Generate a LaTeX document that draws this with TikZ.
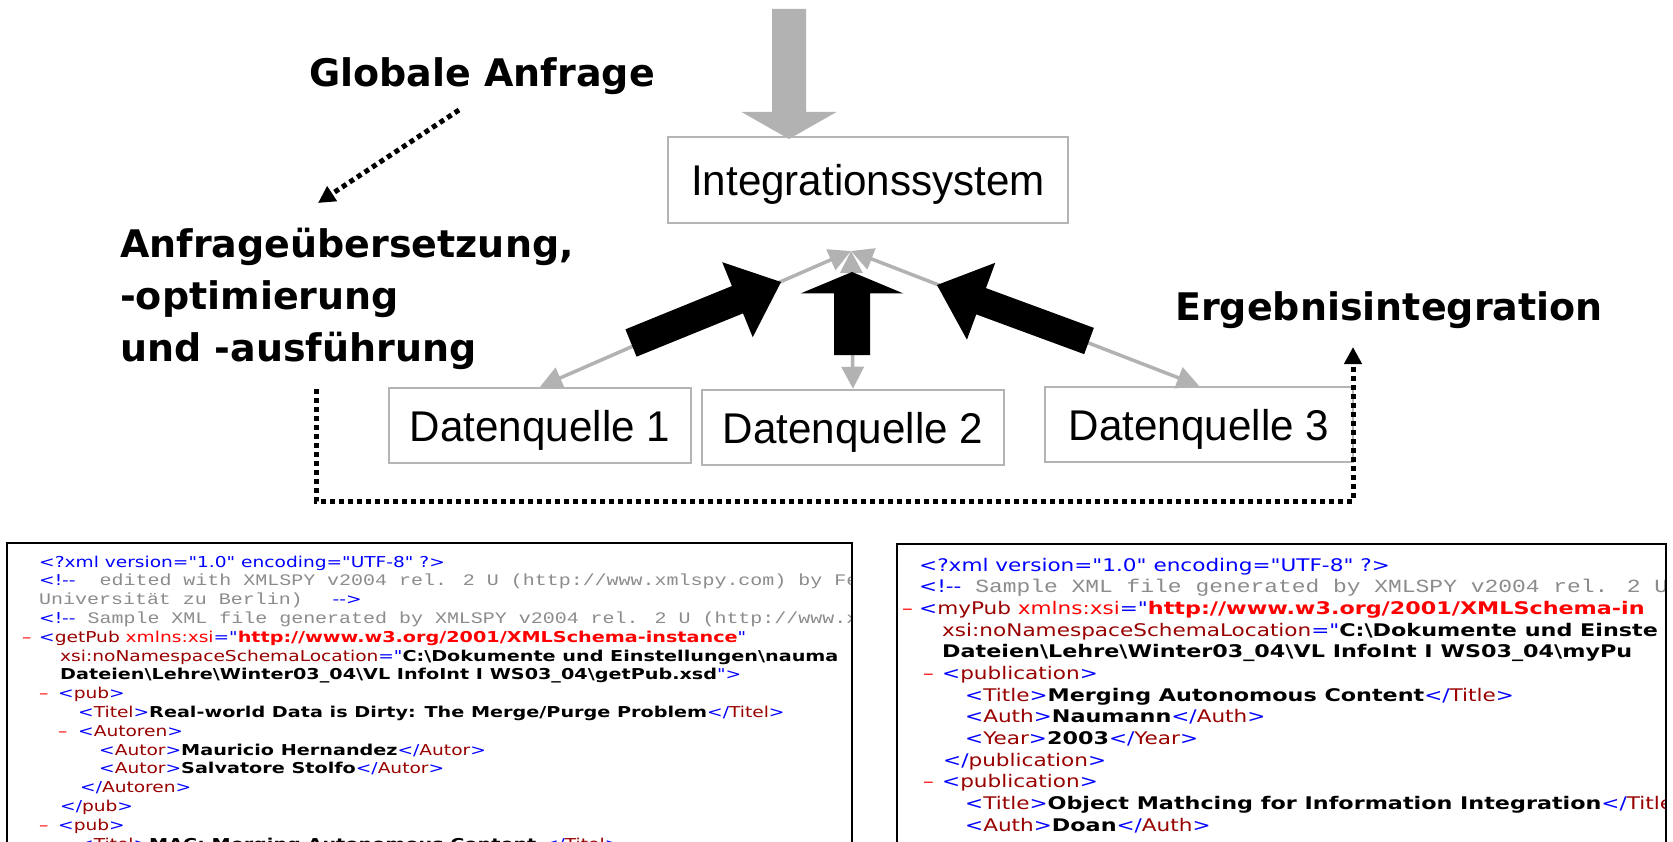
\documentclass[tikz,border=0pt]{standalone}
\usepackage{fontspec}
\usetikzlibrary{calc,arrows.meta}
\newfontfamily\lblfont{DejaVu Sans}
\newfontfamily\boxfont[FakeStretch=0.98]{Liberation Sans}
\newfontfamily\xsans[FakeStretch=1.24, BoldFeatures={FakeStretch=1.28}]{DejaVu Sans}
\newfontfamily\xmono[FakeStretch=1.24]{Liberation Mono}
\definecolor{lgray}{HTML}{B2B2B2}
\definecolor{bgray}{HTML}{B4B4B4}
\definecolor{xblue}{HTML}{0000FF}
\definecolor{xdred}{HTML}{990000}
\definecolor{xred}{HTML}{FF0000}
\definecolor{xgray}{HTML}{8C8C8C}
% XML listing helpers
\newcommand\xmsz{16.1}
\newcommand\xc[1]{{\xmono\fontsize{\xmsz}{20}\selectfont\color{xgray}#1}}
\newcommand\xb[1]{\textcolor{xblue}{#1}}
\newcommand\xr[1]{\textcolor{xdred}{#1}}
\newcommand\xn[1]{\textcolor{xred}{#1}}
\newcommand\xbs{\textbackslash}
\newcommand\tg[1]{\xb{<}\xr{#1}\xb{>}}
\newcommand\etg[1]{\xb{</}\xr{#1}\xb{>}}
\newcommand\xlin[4]{\node[xmltext] (#1) at (#2,#3) {#4};}
\newcommand\xdash[3]{\node[xmltext] (#1) at (#2,#3) {\xn{\textendash}};}
% filled block arrow: colour, name, tail, tip, half shaft, head length, half head
\newcommand\blockarr[7]{%
  \coordinate (#2m) at ($(#4)!#6!(#3)$);
  \fill[#1] ($(#3)!#5!90:(#4)$) -- ($(#2m)!#5!-90:(#3)$) -- ($(#2m)!#7!-90:(#3)$)
    -- (#4) -- ($(#2m)!#7!90:(#3)$) -- ($(#2m)!#5!90:(#3)$) -- ($(#3)!#5!-90:(#4)$) -- cycle;}
\begin{document}
\begin{tikzpicture}[x=1pt,y=-1pt,
  box/.style={draw=bgray, line width=2.5pt, inner sep=0pt,
    font=\boxfont\fontsize{43}{50}\selectfont, text height=32pt, text depth=0pt},
  lbl/.style={anchor=base west, inner sep=0pt,
    font=\lblfont\bfseries\fontsize{38}{44}\selectfont},
  gline/.style={draw=lgray, line width=3.5pt, >={Triangle[length=22pt,width=22pt]}, <->},
  dotline/.style={line width=5pt, dash pattern=on 5pt off 4pt},
  dottip/.style={-{Triangle[length=17pt,width=17pt]}},
  panel/.style={draw=black, line width=2.5pt},
  xmltext/.style={anchor=base west, inner sep=0pt}]
\useasboundingbox (0,0) rectangle (1673,842);
\clip (0,0) rectangle (1673,842);
\fill[white] (0,0) rectangle (1673,842);

% boxes
\node[box, minimum width=400pt, minimum height=86pt] (integ) at (868,180) {Integrationssystem};
\node[box, minimum width=302pt, minimum height=75pt] (d1) at (540,425.5) {Datenquelle 1};
\node[box, minimum width=302pt, minimum height=75pt] (d2) at (853,427.5) {Datenquelle 2};
\node[box, minimum width=308pt, minimum height=75pt] (d3) at (1199,424.5) {Datenquelle 3};

% thin grey links between the sources and the integration system
\coordinate (apex) at (851,251);
\draw[gline] (d1.north) -- (apex);
\draw[gline] (d2.north) -- (apex);
\draw[gline] (d3.north) -- (apex);

% incoming global query
\coordinate (gtop) at (789,9);
\coordinate (gtip) at (789,139);
\blockarr{lgray}{ga}{gtop}{gtip}{17pt}{27pt}{47.5pt}

% result flow from the sources
\coordinate (lt) at (631,343); \coordinate (lp) at (781,282);
\coordinate (mt) at (852,355); \coordinate (mp) at (852,272);
\coordinate (rt) at (1089,341); \coordinate (rp) at (937,285);
\blockarr{black}{la}{lt}{lp}{14.75pt}{47pt}{40.5pt}
\blockarr{black}{ma}{mt}{mp}{18pt}{21.5pt}{51.5pt}
\blockarr{black}{ra}{rt}{rp}{14pt}{47pt}{41pt}

% labels
\node[lbl] (glob) at (309,87) {Globale Anfrage};
\node[lbl] (au1) at (120,258) {Anfrageübersetzung,};
\node[lbl] (au2) at (120,309.5) {-optimierung};
\node[lbl] (au3) at (120,361) {und -ausführung};
\node[lbl] (erg) at (1175,320) {Ergebnisintegration};

% dotted hints
\coordinate (q1) at (459,110);
\coordinate (q2) at (318,203);
\draw[dotline, dottip] (q1) -- (q2);
\coordinate (r1) at (316,389);
\coordinate (r2) at (1353,347);
\draw[dotline, dottip] (r1) -- ++(0,112) -| (r2);

% source document getPub
\draw[panel] (7,543) rectangle (852,880);
\begin{scope}
  \clip (8.5,544.5) rectangle (850.5,842);
  \begin{scope}[font=\xsans\fontsize{15}{18}\selectfont]
  \xlin{a1}{39}{567}{\xb{<?xml version="1.0" encoding="UTF-8" ?>}}
  \xlin{a2}{39}{585.8}{\xb{<!-{}-}\xc{\ \ edited with XMLSPY v2004 rel. 2 U (http://www.xmlspy.com) by Fe}}
  \xlin{a3}{39}{604.6}{\xc{Universität zu Berlin)\ \ }\ \xb{-{}->}}
  \xlin{a4}{39}{623.4}{\xb{<!-{}-}\xc{\ Sample XML file generated by XMLSPY v2004 rel. 2 U (http://www.x}}
  \xdash{a5d}{22}{642.2}
  \xlin{a5}{39}{642.2}{\xb{<}\xr{getPub}\ \xn{xmlns:xsi}\xb{="}\xn{\textbf{http://www.w3.org/2001/XMLSchema-instance}}\xb{"}}
  \xlin{a6}{60}{661}{\xr{xsi:noNamespaceSchemaLocation}\xb{="}\textbf{C:\xbs Dokumente und Einstellungen\xbs nauma}}
  \xlin{a7}{60}{679.8}{\textbf{Dateien\xbs Lehre\xbs Winter03\_04\xbs VL InfoInt I WS03\_04\xbs getPub.xsd}\xb{">}}
  \xdash{a8d}{39}{698.6}
  \xlin{a8}{58}{698.6}{\tg{pub}}
  \xlin{a9}{78}{717.4}{\tg{Titel}\textbf{Real-world Data is Dirty: The Merge/Purge Problem}\etg{Titel}}
  \xdash{a10d}{58}{736.2}
  \xlin{a10}{78}{736.2}{\tg{Autoren}}
  \xlin{a11}{99}{755}{\tg{Autor}\textbf{Mauricio Hernandez}\etg{Autor}}
  \xlin{a12}{99}{773.8}{\tg{Autor}\textbf{Salvatore Stolfo}\etg{Autor}}
  \xlin{a13}{80}{792.6}{\etg{Autoren}}
  \xlin{a14}{60}{811.4}{\etg{pub}}
  \xdash{a15d}{39}{830.2}
  \xlin{a15}{58}{830.2}{\tg{pub}}
  \xlin{a16}{78}{849}{\tg{Titel}\textbf{MAC: Merging Autonomous Content }\etg{Titel}}
  \end{scope}
\end{scope}

% source document myPub
\draw[panel] (897,544) rectangle (1666,880);
\begin{scope}
  \clip (898.5,545.5) rectangle (1664.5,842);
  \renewcommand\xmsz{18.5}
  \begin{scope}[font=\xsans\fontsize{17.4}{21}\selectfont]
  \xlin{b1}{919}{571}{\xb{<?xml version="1.0" encoding="UTF-8" ?>}}
  \xlin{b2}{919}{592.7}{\xb{<!-{}-}\xc{\ Sample XML file generated by XMLSPY v2004 rel. 2 U}}
  \xdash{b3d}{902}{614.3}
  \xlin{b3}{919}{614.3}{\xb{<}\xr{myPub}\ \xn{xmlns:xsi}\xb{="}\xn{\textbf{http://www.w3.org/2001/XMLSchema-in}}}
  \xlin{b4}{942}{636}{\xr{xsi:noNamespaceSchemaLocation}\xb{="}\textbf{C:\xbs Dokumente und Einste}}
  \xlin{b5}{942}{657.7}{\textbf{Dateien\xbs Lehre\xbs Winter03\_04\xbs VL InfoInt I WS03\_04\xbs myPu}}
  \xdash{b6d}{923}{679.4}
  \xlin{b6}{942}{679.4}{\tg{publication}}
  \xlin{b7}{965}{701}{\tg{Title}\textbf{Merging Autonomous Content}\etg{Title}}
  \xlin{b8}{965}{722.7}{\tg{Auth}\textbf{Naumann}\etg{Auth}}
  \xlin{b9}{965}{744.4}{\tg{Year}\textbf{2003}\etg{Year}}
  \xlin{b10}{943}{766}{\etg{publication}}
  \xdash{b11d}{923}{787.7}
  \xlin{b11}{942}{787.7}{\tg{publication}}
  \xlin{b12}{965}{809.4}{\tg{Title}\textbf{Object Mathcing for Information Integration}\xb{</}\xr{Title}}
  \xlin{b13}{965}{831}{\tg{Auth}\textbf{Doan}\etg{Auth}}
  \end{scope}
\end{scope}
\end{tikzpicture}
\end{document}
